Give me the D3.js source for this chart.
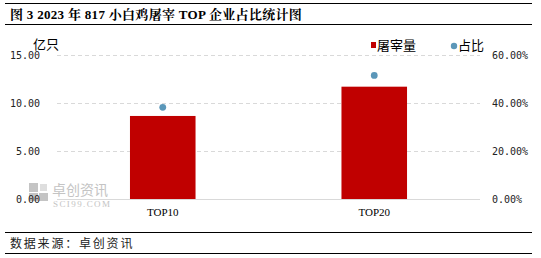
<!DOCTYPE html>
<html>
<head>
<meta charset="utf-8">
<script src="https://cdn.jsdelivr.net/npm/d3@7"></script>
<style>
  body { margin: 0; background: #fff; }
  svg { display: block; }
</style>
</head>
<body>
<div id="chart"></div>
<script>
// data
const categories = ["TOP10", "TOP20"];
const volume = [8.65, 11.7];      // 屠宰量, 亿只
const share = [0.382, 0.515];     // 占比
const leftTicks = [0, 5, 10, 15];
const rightTicks = [0, 0.2, 0.4, 0.6];

const width = 541, height = 258;
const svg = d3.select("#chart").append("svg")
  .attr("width", width)
  .attr("height", height);

const plot = { left: 57, right: 480, top: 55, bottom: 199 };

const x = d3.scaleBand().domain(categories).range([plot.left, plot.right]).padding(0);
const yL = d3.scaleLinear().domain([0, 15]).range([plot.bottom, plot.top]);
const yR = d3.scaleLinear().domain([0, 0.6]).range([plot.bottom, plot.top]);
const barW = x.bandwidth() * 0.31;

// title + frame lines
svg.append("line").attr("x1", 5).attr("x2", 532).attr("y1", 3.5).attr("y2", 3.5)
  .attr("stroke", "#000").attr("stroke-width", 1);
svg.append("line").attr("x1", 5).attr("x2", 532).attr("y1", 24.5).attr("y2", 24.5)
  .attr("stroke", "#000").attr("stroke-width", 1);
svg.append("text")
  .attr("x", 10).attr("y", 19)
  .style("font-family", "'Liberation Serif', 'Noto Serif CJK SC', 'Noto Sans CJK SC', serif")
  .style("font-size", "13px")
  .style("font-weight", "bold")
  .attr("letter-spacing", "0.3px")
  .text("图 3 2023 年 817 小白鸡屠宰 TOP 企业占比统计图");

// gridlines
svg.append("g").selectAll("line")
  .data(leftTicks.filter(d => d > 0))
  .join("line")
  .attr("x1", plot.left).attr("x2", plot.right)
  .attr("y1", d => Math.round(yL(d)) + 0.5).attr("y2", d => Math.round(yL(d)) + 0.5)
  .attr("stroke", "#d9d9d9")
  .attr("stroke-dasharray", "4,3");

// watermark
const wm = svg.append("g").attr("fill", "#c4c4c4");
wm.append("rect").attr("x", 29).attr("y", 183).attr("width", 9).attr("height", 9);
wm.append("rect").attr("x", 29).attr("y", 193).attr("width", 9).attr("height", 8);
wm.append("rect").attr("x", 39).attr("y", 193).attr("width", 9).attr("height", 8);
wm.append("rect").attr("x", 40).attr("y", 184).attr("width", 7).attr("height", 7).attr("fill", "#dedede");
wm.append("text").attr("x", 52).attr("y", 195)
  .style("font-family", "'Noto Sans CJK SC', sans-serif").style("font-size", "14px")
  .text("卓创资讯");
wm.append("text").attr("x", 53).attr("y", 207)
  .style("font-family", "'Liberation Serif', serif").style("font-size", "9px")
  .attr("textLength", 57)
  .text("SCI99.COM");

// bars
svg.append("g").selectAll("rect")
  .data(categories)
  .join("rect")
  .attr("x", (d) => x(d) + x.bandwidth() / 2 - barW / 2)
  .attr("width", barW)
  .attr("y", (d, i) => yL(volume[i]))
  .attr("height", (d, i) => plot.bottom - yL(volume[i]))
  .attr("fill", "#c00000");

// baseline
svg.append("line").attr("x1", plot.left).attr("x2", plot.right)
  .attr("y1", plot.bottom + 0.5).attr("y2", plot.bottom + 0.5)
  .attr("stroke", "#d9d9d9");

// share dots
svg.append("g").selectAll("circle")
  .data(categories)
  .join("circle")
  .attr("cx", d => x(d) + x.bandwidth() / 2)
  .attr("cy", (d, i) => yR(share[i]))
  .attr("r", 3.4)
  .attr("fill", "#5b97b9");

const tickFont = "'DejaVu Sans Mono', 'Liberation Mono', monospace";

// left axis labels
svg.append("g").selectAll("text")
  .data(leftTicks)
  .join("text")
  .attr("x", 40)
  .attr("y", d => yL(d) + 4)
  .attr("text-anchor", "end")
  .style("font-family", tickFont)
  .style("font-size", "10px")
  .attr("fill", "#222")
  .text(d => d3.format(".2f")(d));

// right axis labels
svg.append("g").selectAll("text")
  .data(rightTicks)
  .join("text")
  .attr("x", 492)
  .attr("y", d => yR(d) + 4)
  .style("font-family", tickFont)
  .style("font-size", "10px")
  .attr("fill", "#222")
  .text(d => d3.format(".2%")(d));

// category labels
svg.append("g").selectAll("text")
  .data(categories)
  .join("text")
  .attr("x", d => x(d) + x.bandwidth() / 2)
  .attr("y", 216)
  .attr("text-anchor", "middle")
  .style("font-family", "'Liberation Serif', serif")
  .style("font-size", "11px")
  .text(d => d);

// unit
svg.append("text")
  .attr("x", 33).attr("y", 49)
  .style("font-family", "'Noto Sans CJK SC', sans-serif")
  .style("font-size", "13px")
  .text("亿只");

// legend
svg.append("rect").attr("x", 371).attr("y", 42).attr("width", 5).attr("height", 6).attr("fill", "#c00000");
svg.append("text").attr("x", 377).attr("y", 50)
  .style("font-family", "'Noto Sans CJK SC', sans-serif").style("font-size", "13px")
  .text("屠宰量");
svg.append("circle").attr("cx", 454).attr("cy", 46).attr("r", 3.2).attr("fill", "#5b97b9");
svg.append("text").attr("x", 458).attr("y", 50)
  .style("font-family", "'Noto Sans CJK SC', sans-serif").style("font-size", "13px")
  .text("占比");

// footer
svg.append("line").attr("x1", 5).attr("x2", 532).attr("y1", 232.5).attr("y2", 232.5)
  .attr("stroke", "#000");
svg.append("line").attr("x1", 5).attr("x2", 532).attr("y1", 253.5).attr("y2", 253.5)
  .attr("stroke", "#000");
svg.append("text")
  .attr("x", 10).attr("y", 248)
  .style("font-family", "'Noto Sans CJK SC', sans-serif")
  .style("font-size", "12px")
  .attr("letter-spacing", "1.8px")
  .attr("fill", "#222")
  .text("数据来源：卓创资讯");
</script>
</body>
</html>
